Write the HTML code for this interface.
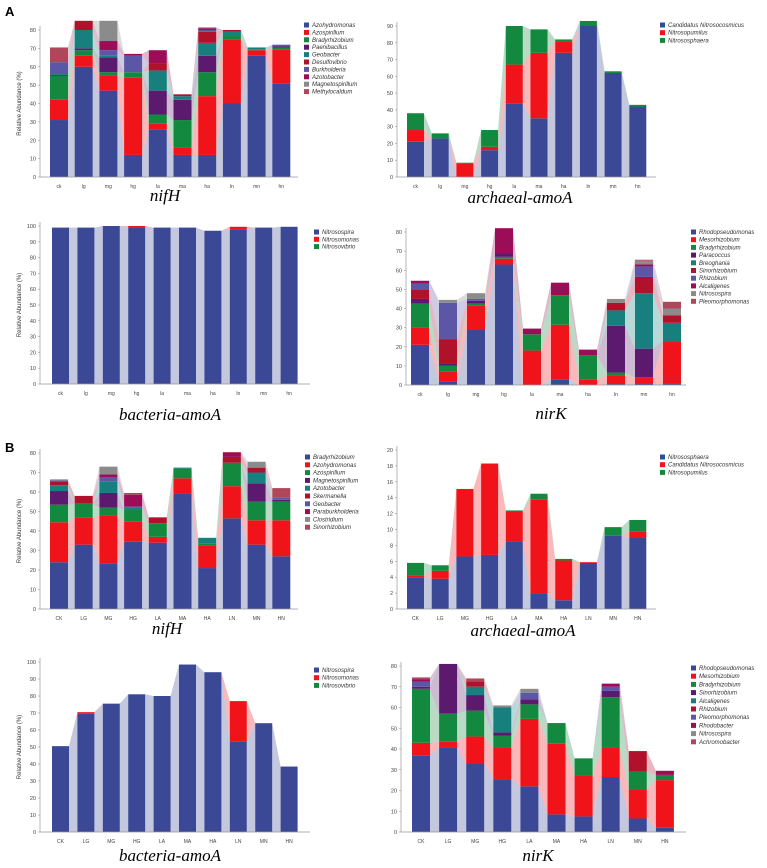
<!DOCTYPE html>
<html><head><meta charset="utf-8"><style>
body{margin:0;background:#fff;width:767px;height:868px;overflow:hidden}
svg{display:block;font-family:"Liberation Sans",sans-serif}
.t{font-family:"Liberation Serif",serif;font-style:italic;font-size:17px}
</style></head><body>
<svg id="fig" width="767" height="868" viewBox="0 0 767 868">
<text x="5" y="16" font-size="13" font-weight="bold">A</text>
<text x="5" y="452" font-size="13" font-weight="bold">B</text>
</svg>
<script>
const catsLower=["ck","lg","mg","hg","la","ma","ha","ln","mn","hn"];
const catsUpper=["CK","LG","MG","HG","LA","MA","HA","LN","MN","HN"];
const palette=["#3b4896","#f0141a","#12893f","#5c1a6e","#17807f","#b0122c","#5b56a6","#9c0d58","#8b8b8b","#b0465a"];

const nifhASpecies=["Azohydromonas","Azospirillum","Bradyrhizobium","Paenibacillus","Geobacter","Desulfovibrio","Burkholderia","Azotobacter","Magnetospirillum","Methylocaldum"];
const nifhAValues=[[31,11,13,0.5,0.5,0.5,6,0,0,8],[60,6,3,1,10,5,0,0,0,0],[47,8,2,8,1,0,3,5,11,0],[12,42,3,0,0,0,9,1,0,0],[26,3,5,13,11,4,0,7,0,0],[12,4,15,11,2,1,0,0,0,0],[12,32,13,9,7,6,1,1,0.5,0],[40,35,2,0,2,1,0,0,0,0],[66,3,0.5,0,1,0,0,0,0,0],[51,18.5,1,0.5,0,0,1,0,0,0]];
const nifhATicks=[0,10,20,30,40,50,60,70,80];

const archASpecies=["Candidatus Nitrosocosmicus","Nitrosopumilus","Nitrososphaera"];
const archAValues=[[21,7,10],[23,0,3],[0,8,0.5],[16,2,10],[44,23,23],[35,39,14],[74,7,1],[90,0,3],[62,0,1],[42,0,1]];
const archATicks=[0,10,20,30,40,50,60,70,80,90];

const bactASpecies=["Nitrosospira","Nitrosomonas","Nitrosovibrio"];
const bactAValues=[[99,0,0],[99,0,0],[100,0,0],[99,1,0],[99,0,0],[99,0,0],[97,0,0],[98,1.5,0],[99,0,0],[99.5,0,0]];
const bactATicks=[0,10,20,30,40,50,60,70,80,90,100];

const nirkASpecies=["Rhodopseudomonas","Mesorhizobium","Bradyrhizobium","Paracoccus","Breoghania","Sinorhizobium","Rhizobium","Alcaligenes","Nitrosospira","Pleomorphomonas"];
const nirkAValues=[[21,9,12.5,2.5,0,5,3,1.5,0,0],[2,5,3,1,0,13,19,0,1.5,0],[29,12.5,1,1.5,0,0,1,0,3,0],[63,3,1,2,0,0,0,13,0,0],[0,18,8.5,0,0,0,0,3,0,0],[3,28.5,15.5,0,0,0,0,6.5,0,0],[0,3,12.5,0,0,0,0,3,0,0],[0.5,4.5,1.5,24.5,8,4,0,0,2,0],[1,3,0,15,29,8.5,5.5,1,2,0.5],[1,21.5,0.5,0,9.5,4,0,0,3.5,3.5]];
const nirkATicks=[0,10,20,30,40,50,60,70,80];

const nifhBSpecies=["Bradyrhizobium","Azohydromonas","Azospirillum","Magnetospirillum","Azotobacter","Skermanella","Geobacter","Paraburkholderia","Clostridium","Sinorhizobium"];
const nifhBValues=[[24,20.5,9,7,3,2,0.5,0,0.5,0],[33,14,7,0,0,4,0,0,0,0],[23.5,24.5,4,7.5,6,0,2,1.5,4,0],[34.5,10.5,6,0,1,0,0.5,6,0,1],[34,3,7,0,0,3,0,0,0,0],[59,8,5,0,0.5,0,0,0,0,0],[21,11.5,1,0,3,0,0,0,0,0],[46.5,16.5,12,0,0,3,0,2,0,0.5],[33,12.5,9.5,9.5,5.5,2.5,0,0,3,0],[27,18.5,9.5,1,0,0,1,0,0,5]];
const nifhBTicks=[0,10,20,30,40,50,60,70,80];

const archBSpecies=["Nitrososphaera","Candidatus Nitrosocosmicus","Nitrosopumilus"];
const archBValues=[[4,0.2,1.6],[3.8,1,0.7],[6.6,8.5,0],[6.8,11.5,0],[8.5,3.7,0.2],[2,11.8,0.7],[1.1,5,0.2],[5.8,0.1,0],[9.2,0,1.1],[9,0.7,1.5]];
const archBTicks=[0,2,4,6,8,10,12,14,16,18,20];

const bactBSpecies=["Nitrosospira","Nitrosomonas","Nitrosovibrio"];
const bactBValues=[[50.5,0,0],[69.5,1,0],[75.5,0,0],[81,0,0],[80,0,0],[98.5,0,0],[94,0,0],[53,24,0],[64,0,0],[38.5,0,0]];
const bactBTicks=[0,10,20,30,40,50,60,70,80,90,100];

const nirkBSpecies=["Rhodopseudomonas","Mesorhizobium","Bradyrhizobium","Sinorhizobium","Alcaligenes","Rhizobium","Pleomorphomonas","Rhodobacter","Nitrosospira","Achromobacter"];
const nirkBValues=[[37,6,26,1,0,0,2.5,1,0,1],[40.5,3,13.5,24,0,0,0,0,0,0],[33,13,12.5,7.5,4,2.5,0,0,0,1.5],[25.5,15,6,1.5,12,0,0,0,1,0],[22,32.5,7,2.5,0,0,3,0,2,0],[8.5,34,10,0,0,0,0,0,0,0],[7.5,19.5,8.5,0,0,0,0,0,0,0],[26.5,14,24.5,3,0,0,2,1.5,0,0],[6.5,14,8.5,0,0,10,0,0,0,0],[2,23,2.5,0,0,0,0,2,0,0]];
const nirkBTicks=[0,10,20,30,40,50,60,70,80];

const NS="http://www.w3.org/2000/svg";
const svg=document.getElementById("fig");
function mk(tag,attrs,parent){const e=document.createElementNS(NS,tag);for(const k in attrs)e.setAttribute(k,attrs[k]);(parent||svg).appendChild(e);return e;}

function panel(id,title,cats,species,values,ticks,g){
  const grp=mk("g",{});
  
  
  const max=ticks[ticks.length-1];
  const yS=v=>g.y0-(v/max)*(g.y0-g.yTop);
  const xS=i=>g.bx0+i*g.step;
  // bands
  for(let i=0;i<cats.length-1;i++){
    let c1=0,c2=0;
    for(let s=0;s<species.length;s++){
      const a=values[i][s],b=values[i+1][s];
      if(a>0||b>0){
        const p=mk("polygon",{points:`${xS(i)+g.bw},${yS(c1)} ${xS(i)+g.bw},${yS(c1+a)} ${xS(i+1)},${yS(c2+b)} ${xS(i+1)},${yS(c2)}`,fill:palette[s],"fill-opacity":0.3},grp);
        
        
      }
      c1+=a;c2+=b;
    }
  }
  // bars
  for(let i=0;i<cats.length;i++){
    let c=0;
    for(let s=0;s<species.length;s++){
      const v=values[i][s];
      if(v>0){
        const r=mk("rect",{x:xS(i),y:yS(c+v),width:g.bw,height:yS(c)-yS(c+v),fill:palette[s]},grp);
        
        
      }
      c+=v;
    }
    const t=mk("text",{x:xS(i)+g.bw/2,y:g.y0+11,"font-size":5,"text-anchor":"middle",fill:"#444"},grp);
    
    
    t.textContent=cats[i];
  }
  // axes
  const ax=mk("line",{x1:g.ax,y1:g.y0,x2:g.axR,y2:g.y0,stroke:"#999","stroke-width":0.7},grp);
  
  
  const ay=mk("line",{x1:g.ax,y1:g.y0,x2:g.ax,y2:g.yTop-4,stroke:"#999","stroke-width":0.7},grp);
  
  
  for(const tk of ticks){
    mk("line",{x1:g.ax-2,y1:yS(tk),x2:g.ax,y2:yS(tk),stroke:"#999","stroke-width":0.6},grp);
    const t=mk("text",{x:g.ax-4,y:yS(tk)+2,"font-size":5.5,"text-anchor":"end",fill:"#444"},grp);
    
    
    t.textContent=tk;
  }
  if(g.ylab){
    const cy=(g.y0+g.yTop)/2;
    const t=mk("text",{x:g.ax-19,y:cy,"font-size":6,"text-anchor":"middle",fill:"#333",transform:`rotate(-90 ${g.ax-19} ${cy})`},grp);
    
    
    t.textContent="Relative Abundance (%)";
  }
  // legend
  for(let s=0;s<species.length;s++){
    const ly=g.ly+s*g.lsp;
    const r=mk("rect",{x:g.lx,y:ly-2.5,width:5,height:5,fill:palette[s]},grp);
    
    
    const t=mk("text",{x:g.lx+8,y:ly+2,"font-size":6,"font-style":"italic",fill:"#333"},grp);
    
    
    t.textContent=species[s];
  }
  const tt=mk("text",{x:g.tx,y:g.ty,"text-anchor":"middle",class:"t"},grp);
  
  
  tt.textContent=title;
}

panel("nifh-a","nifH",catsLower,nifhASpecies,nifhAValues,nifhATicks,{ax:40,axR:298,bx0:50,bw:18,step:24.7,y0:177,yTop:30,lx:304,ly:25,lsp:7.4,tx:165,ty:201,ylab:true});
panel("archaeal-a","archaeal-amoA",catsLower,archASpecies,archAValues,archATicks,{ax:397,axR:656,bx0:407,bw:17,step:24.7,y0:177,yTop:26,lx:660,ly:25,lsp:7.7,tx:520,ty:203,ylab:false});
panel("bacteria-a","bacteria-amoA",catsLower,bactASpecies,bactAValues,bactATicks,{ax:40,axR:310,bx0:52,bw:17,step:25.4,y0:384,yTop:226,lx:314,ly:232,lsp:7.3,tx:170,ty:420,ylab:true});
panel("nirk-a","nirK",catsLower,nirkASpecies,nirkAValues,nirkATicks,{ax:406,axR:686,bx0:411,bw:18,step:28,y0:385,yTop:232,lx:691,ly:232,lsp:7.7,tx:551,ty:419,ylab:false});
panel("nifh-b","nifH",catsUpper,nifhBSpecies,nifhBValues,nifhBTicks,{ax:40,axR:298,bx0:50,bw:18,step:24.7,y0:609,yTop:453,lx:305,ly:457,lsp:7.8,tx:167,ty:634,ylab:true});
panel("archaeal-b","archaeal-amoA",catsUpper,archBSpecies,archBValues,archBTicks,{ax:397,axR:656,bx0:407,bw:17,step:24.7,y0:609,yTop:450,lx:660,ly:457,lsp:7.7,tx:523,ty:636,ylab:false});
panel("bacteria-b","bacteria-amoA",catsUpper,bactBSpecies,bactBValues,bactBTicks,{ax:40,axR:310,bx0:52,bw:17,step:25.4,y0:832,yTop:662,lx:314,ly:670,lsp:7.7,tx:170,ty:861,ylab:true});
panel("nirk-b","nirK",catsUpper,nirkBSpecies,nirkBValues,nirkBTicks,{ax:401,axR:686,bx0:412,bw:18,step:27.1,y0:832,yTop:666,lx:691,ly:668,lsp:8.2,tx:538,ty:861,ylab:false});
</script>
</body></html>
